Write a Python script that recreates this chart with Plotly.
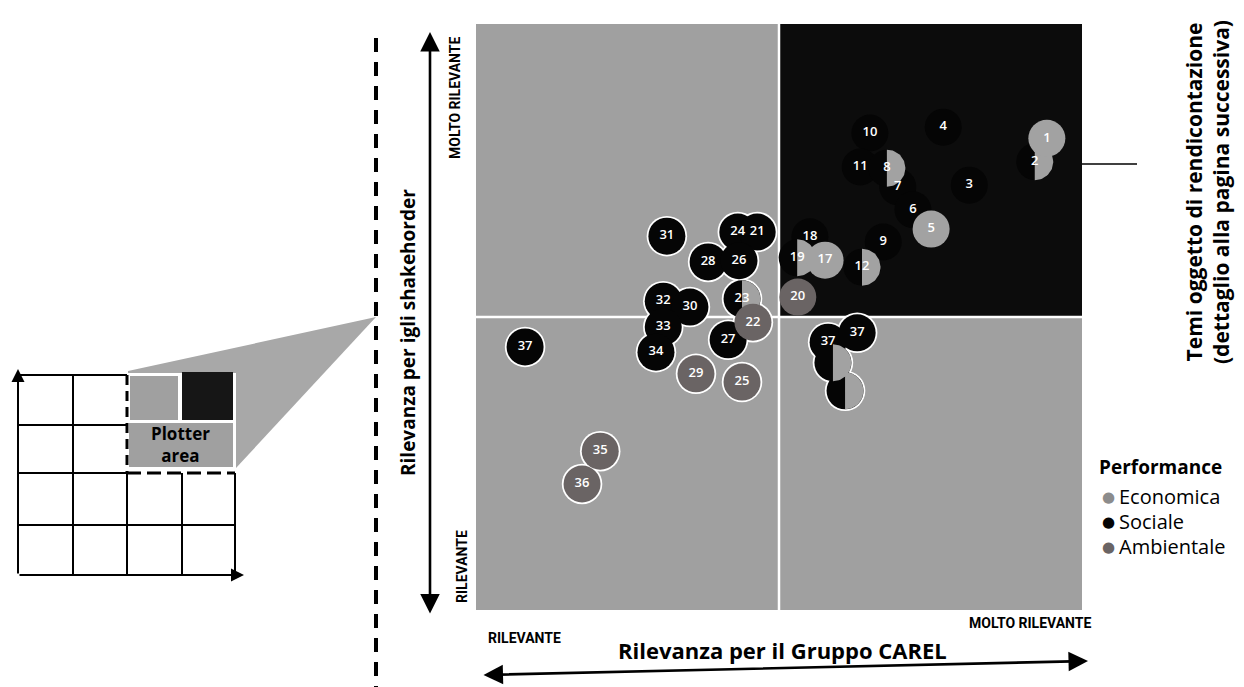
import numpy as np
import plotly.graph_objects as go

W, H = 1244, 687
OFF = 8  # page offset of the figure inside the browser window
L, R, T, B = 476 - OFF, 170, 24 - OFF, 85
PW, PH = W - L - R, H - T - B


def px(x):
    return (x - OFF - L) / PW


def py(y):
    return (H - B - (y - OFF)) / PH


# ---------------- data (0-10 scale on both axes, split at 5) ----------------
soc_labels = ["10", "4", "11", "7", "3", "6", "9", "18", "31", "24", "21", "28", "26",
              "32", "30", "33", "34", "27", "37", "37", "37"]
soc_x = [6.50, 7.71, 6.34, 6.96, 8.14, 7.21, 6.72, 5.51, 3.15, 4.32, 4.64, 3.83, 4.34,
         3.09, 3.53, 3.09, 2.97, 4.16, 0.81, 5.81, 6.29]
soc_y = [8.14, 8.24, 7.56, 7.22, 7.25, 6.83, 6.28, 6.37, 6.38, 6.45, 6.45, 5.94, 5.96,
         5.27, 5.17, 4.83, 4.40, 4.61, 4.49, 4.57, 4.73]

eco_labels = ["1", "5", "17"]
eco_x = [9.42, 7.51, 5.76]
eco_y = [8.05, 6.50, 5.97]

amb_labels = ["20", "22", "29", "25", "35", "36"]
amb_x = [5.31, 4.57, 3.63, 4.39, 2.05, 1.75]
amb_y = [5.34, 4.91, 4.03, 3.89, 2.71, 2.15]

# topics shared Sociale (left half) / Economica (right half)
split_labels = ["2", "8", "12", "19", "23", "", ""]
split_x = [9.22, 6.78, 6.37, 5.30, 4.39, 5.89, 6.09]
split_y = [7.65, 7.54, 5.85, 6.01, 5.31, 4.22, 3.74]

legend_labels = ["Economica", "Sociale", "Ambientale"]

# ---------------- styles ----------------
BG = "#a0a0a0"
DARK = "#0c0c0c"
C_ECO = "#a2a2a2"
C_SOC = "#050505"
C_AMB = "#6a6464"
D = 37  # bubble diameter (px)
FONT = "Open Sans, Noto Sans, DejaVu Sans, sans-serif"
NARROW = "Liberation Sans Narrow, Roboto, Open Sans, sans-serif"

fig = go.Figure()

all_x = soc_x + eco_x + amb_x + split_x
all_y = soc_y + eco_y + amb_y + split_y
ox = [x for x, y in zip(all_x, all_y) if not (x > 5 and y > 5)]
oy = [y for x, y in zip(all_x, all_y) if not (x > 5 and y > 5)]

# white halo (merged outline) under bubbles sitting on the grey area
fig.add_trace(go.Scatter(x=ox, y=oy, mode="markers", hoverinfo="skip", showlegend=False,
                         marker=dict(size=D + 3.5, color="white", line=dict(width=0))))

fig.add_trace(go.Scatter(x=soc_x + split_x, y=soc_y + split_y, mode="markers",
                         showlegend=False, hoverinfo="skip",
                         marker=dict(size=D, color=C_SOC, line=dict(width=0))))

# right halves of the split bubbles
rx = (D / 2) / PW * 10
ry = (D / 2) / PH * 10
t = np.linspace(-np.pi / 2, np.pi / 2, 40)
for cx, cy in zip(split_x, split_y):
    fig.add_trace(go.Scatter(x=list(cx + rx * np.cos(t)), y=list(cy + ry * np.sin(t)),
                             mode="lines", fill="toself", fillcolor=C_ECO,
                             line=dict(width=0, color=C_ECO), hoverinfo="skip",
                             showlegend=False))

fig.add_trace(go.Scatter(x=eco_x, y=eco_y, mode="markers", showlegend=False,
                         hoverinfo="skip",
                         marker=dict(size=D, color=C_ECO, line=dict(width=0))))
fig.add_trace(go.Scatter(x=amb_x, y=amb_y, mode="markers", showlegend=False,
                         hoverinfo="skip",
                         marker=dict(size=D, color=C_AMB, line=dict(width=0))))

# labels on top
fig.add_trace(go.Scatter(x=soc_x + eco_x + amb_x + split_x,
                         y=soc_y + eco_y + amb_y + split_y,
                         text=soc_labels + eco_labels + amb_labels + split_labels,
                         mode="text", textposition="middle center", showlegend=False,
                         hoverinfo="skip",
                         textfont=dict(family=FONT, size=13, color="white", weight=600)))

shapes = []
# dark top-right quadrant + white dividers
shapes.append(dict(type="rect", xref="x", yref="y", x0=5, x1=10, y0=5, y1=10,
                   fillcolor=DARK, line=dict(width=0), layer="below"))
shapes.append(dict(type="line", xref="x", yref="y", x0=5, x1=5, y0=0, y1=10,
                   line=dict(color="white", width=2.5), layer="below"))
shapes.append(dict(type="line", xref="x", yref="y", x0=0, x1=10, y0=5, y1=5,
                   line=dict(color="white", width=2.5), layer="below"))

# leader line to the right title
shapes.append(dict(type="line", xref="paper", yref="paper", x0=px(1082), x1=px(1137),
                   y0=py(164), y1=py(164), line=dict(color="black", width=1.5)))

# dashed separator
shapes.append(dict(type="line", xref="paper", yref="paper", x0=px(376), x1=px(376),
                   y0=py(38), y1=py(690), line=dict(color="black", width=4, dash="14px,10px")))


# ----- inset sketch on the left -----
def pline(x0, y0, x1, y1, w=2, dash=None):
    d = dict(type="line", xref="paper", yref="paper", x0=px(x0), x1=px(x1),
             y0=py(y0), y1=py(y1), line=dict(color="black", width=w))
    if dash:
        d["line"]["dash"] = dash
    return d


def prect(x0, y0, x1, y1, fill):
    return dict(type="rect", xref="paper", yref="paper", x0=px(x0), x1=px(x1),
                y0=py(y0), y1=py(y1), fillcolor=fill, line=dict(width=0))


wedge = "M {},{} L {},{} L {},{} L {},{} Z".format(px(376), py(317), px(128), py(371),
                                                    px(128), py(468), px(236), py(468))
shapes.append(dict(type="path", xref="paper", yref="paper", path=wedge,
                   fillcolor="#a8a8a8", line=dict(width=0)))
shapes.append(prect(128, 373, 236, 470, "white"))
shapes.append(prect(130, 376, 178, 420, BG))
shapes.append(prect(182, 372, 233, 420, "#161616"))
shapes.append(prect(129, 423, 233, 467, BG))

shapes.append(pline(73, 375, 73, 575))
shapes.append(pline(127, 473, 127, 575))
shapes.append(pline(182, 473, 182, 575))
shapes.append(pline(235, 473, 235, 575))
shapes.append(pline(127, 375, 127, 473, w=3, dash="10px,6px"))
shapes.append(pline(18, 375, 127, 375))
shapes.append(pline(18, 425, 127, 425))
shapes.append(pline(18, 473, 127, 473))
shapes.append(pline(127, 473, 235, 473, w=3, dash="14px,6px"))
shapes.append(pline(18, 525, 235, 525))

annotations = []
# inset axes with arrows
annotations.append(dict(xref="paper", yref="paper", x=px(18), y=py(369), ax=0, ay=206,
                        text="", showarrow=True, arrowhead=2, arrowsize=1.3,
                        arrowwidth=2, arrowcolor="black"))
annotations.append(dict(xref="paper", yref="paper", x=px(244), y=py(575), ax=-226, ay=0,
                        text="", showarrow=True, arrowhead=2, arrowsize=1.3,
                        arrowwidth=2, arrowcolor="black"))
annotations.append(dict(xref="paper", yref="paper", x=px(180), y=py(445),
                        text="<b>Plotter<br>area</b>", showarrow=False,
                        font=dict(family=FONT, size=17, color="black"),
                        xanchor="center", yanchor="middle"))

# main axis arrows
annotations.append(dict(xref="paper", yref="paper", x=px(430), y=py(32), ax=0, ay=583,
                        text="", showarrow=True, arrowhead=2, arrowside="end+start",
                        arrowsize=1.5, arrowwidth=2.6, arrowcolor="black"))
annotations.append(dict(xref="paper", yref="paper", x=px(1088), y=py(661), ax=-606, ay=14,
                        text="", showarrow=True, arrowhead=2, arrowside="end+start",
                        arrowsize=1.5, arrowwidth=2.6, arrowcolor="black"))

# axis titles
annotations.append(dict(xref="paper", yref="paper", x=px(408), y=py(333),
                        text="<b>Rilevanza per igli shakehorder</b>", textangle=-90,
                        showarrow=False, font=dict(family=FONT, size=19, color="black"),
                        xanchor="center", yanchor="middle"))
annotations.append(dict(xref="paper", yref="paper", x=px(782), y=py(650),
                        text="<b>Rilevanza per il Gruppo CAREL</b>",
                        showarrow=False, font=dict(family=FONT, size=22, color="black"),
                        xanchor="center", yanchor="middle"))

small = dict(family=NARROW, size=14, color="black")
annotations.append(dict(xref="paper", yref="paper", x=px(455), y=py(98),
                        text="<b>MOLTO RILEVANTE</b>", textangle=-90, showarrow=False,
                        font=small, xanchor="center", yanchor="middle"))
annotations.append(dict(xref="paper", yref="paper", x=px(462), y=py(567),
                        text="<b>RILEVANTE</b>", textangle=-90, showarrow=False,
                        font=small, xanchor="center", yanchor="middle"))
annotations.append(dict(xref="paper", yref="paper", x=px(524), y=py(638),
                        text="<b>RILEVANTE</b>", showarrow=False,
                        font=small, xanchor="center", yanchor="middle"))
annotations.append(dict(xref="paper", yref="paper", x=px(1030), y=py(623),
                        text="<b>MOLTO RILEVANTE</b>", showarrow=False,
                        font=small, xanchor="center", yanchor="middle"))

# right title
annotations.append(dict(xref="paper", yref="paper", x=px(1207), y=py(192),
                        text="<b>Temi oggetto di rendicontazione<br>(dettaglio alla pagina successiva)</b>",
                        textangle=-90, showarrow=False,
                        font=dict(family=FONT, size=21, color="black"),
                        xanchor="center", yanchor="middle"))

# legend
annotations.append(dict(xref="paper", yref="paper", x=px(1097), y=py(467),
                        text="<b>Performance</b>", showarrow=False,
                        font=dict(family=FONT, size=19, color="black"),
                        xanchor="left", yanchor="middle"))
leg_cols = ["#8c8c8c", C_SOC, "#6a6464"]
leg_y = [496, 521, 546]
for lab, col, yy in zip(legend_labels, leg_cols, leg_y):
    annotations.append(dict(xref="paper", yref="paper", x=px(1108), y=py(yy),
                            text="●", showarrow=False,
                            font=dict(family=FONT, size=15, color=col),
                            xanchor="center", yanchor="middle"))
    annotations.append(dict(xref="paper", yref="paper", x=px(1117), y=py(yy),
                            text=lab, showarrow=False,
                            font=dict(family=FONT, size=20, color="black"),
                            xanchor="left", yanchor="middle"))

fig.update_layout(
    width=W, height=H,
    margin=dict(l=L, r=R, t=T, b=B, autoexpand=False),
    paper_bgcolor="white", plot_bgcolor=BG,
    xaxis=dict(range=[0, 10], visible=False, fixedrange=True),
    yaxis=dict(range=[0, 10], visible=False, fixedrange=True),
    shapes=shapes, annotations=annotations, showlegend=False,
)

fig.write_html("out.html")
